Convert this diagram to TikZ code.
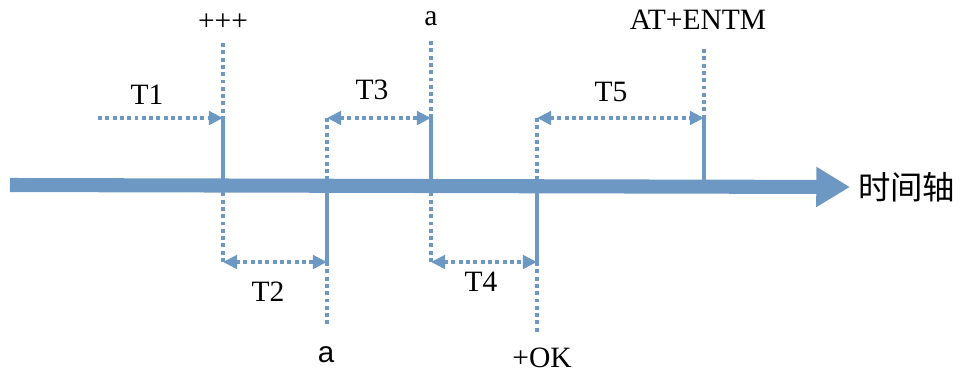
\documentclass[tikz,border=0pt]{standalone}
\usepackage{fontspec}
\setmainfont{Liberation Serif}
\newfontfamily\cjkfont{Noto Sans CJK SC}
\newfontfamily\sanslabel{Liberation Sans}
\usepackage{xcolor}
\definecolor{tlblue}{RGB}{110, 152, 196}
\usetikzlibrary{arrows.meta, positioning}
\tikzset{
  axisline/.style = {
    -{Triangle[length=24pt, width=27pt]},
    line width=10pt,
    draw=tlblue
  },
  ticksolid/.style = {
    line width=2.8pt,
    draw=tlblue
  },
  tickdot/.style = {
    line width=2.8pt,
    draw=tlblue,
    dash pattern=on 2.8pt off 2.4pt
  },
  spanarrow/.style = {
    tickdot,
    {Triangle[length=10pt, width=9.5pt]}-{Triangle[length=10pt, width=9.5pt]}
  },
  leadarrow/.style = {
    tickdot,
    -{Triangle[length=10pt, width=9.5pt]}
  },
  tlabel/.style = {
    font=\fontsize{21}{24}\selectfont,
    text=black,
    inner sep=0pt
  }
}
\begin{document}
\begin{tikzpicture}[x=0.25mm, y=-0.25mm]
  \useasboundingbox (0,0) rectangle (960,372);

  % Time axis
  \coordinate (axstart) at (10, 185);
  \node[tlabel, font=\cjkfont\fontsize{23}{26}\selectfont, anchor=west] (axis) at (858, 187) {时间轴};
  \draw[axisline] (axstart) -- (axis.west -| 850, 185);

  % Event points on the axis
  \coordinate (ev1) at (223, 185);
  \coordinate (ev2) at (327, 185);
  \coordinate (ev3) at (431, 185);
  \coordinate (ev4) at (537, 185);
  \coordinate (ev5) at (704, 185);

  % Labels of the events
  \node[tlabel] (plus) at (223, 22) {+++};
  \node[tlabel, font=\sanslabel\fontsize{21}{24}\selectfont] (abot) at (326, 355) {a};
  \node[tlabel] (atop) at (431, 19) {a};
  \node[tlabel] (okbot) at (542, 358) {+OK};
  \node[tlabel] (entm) at (698, 20) {AT+ENTM};

  % Ends of the ticks
  \coordinate (ev1up) at (223, 118);   \coordinate (ev1top) at (223, 43);
  \coordinate (ev1lo) at (223, 262);
  \coordinate (ev2up) at (327, 118);   \coordinate (ev2lo) at (327, 262);
  \coordinate (ev2bot) at (327, 326);
  \coordinate (ev3up) at (431, 118);   \coordinate (ev3top) at (431, 41);
  \coordinate (ev3lo) at (431, 262);
  \coordinate (ev4up) at (537, 118);   \coordinate (ev4lo) at (537, 262);
  \coordinate (ev4bot) at (537, 332);
  \coordinate (ev5up) at (704, 118);   \coordinate (ev5top) at (704, 49);
  \coordinate (t1start) at (98, 118);

  % Ticks
  \draw[tickdot] (ev1top) -- (ev1up);
  \draw[ticksolid] (ev1up) -- (ev1);
  \draw[tickdot] (ev1) -- (ev1lo);

  \draw[tickdot] (ev2up) -- (ev2);
  \draw[ticksolid] (ev2) -- (ev2lo);
  \draw[tickdot] (ev2lo) -- (ev2bot);

  \draw[tickdot] (ev3top) -- (ev3up);
  \draw[ticksolid] (ev3up) -- (ev3);
  \draw[tickdot] (ev3) -- (ev3lo);

  \draw[tickdot] (ev4up) -- (ev4);
  \draw[ticksolid] (ev4) -- (ev4lo);
  \draw[tickdot] (ev4lo) -- (ev4bot);

  \draw[tickdot] (ev5top) -- (ev5up);
  \draw[ticksolid] (ev5up) -- (ev5);

  % Intervals
  \draw[leadarrow] (t1start) -- (ev1up);
  \node[tlabel] (t1) at (147, 95) {T1};

  \draw[spanarrow] (ev1lo) -- (ev2lo);
  \node[tlabel] (t2) at (268, 292) {T2};

  \draw[spanarrow] (ev2up) -- (ev3up);
  \node[tlabel] (t3) at (372, 90) {T3};

  \draw[spanarrow] (ev3lo) -- (ev4lo);
  \node[tlabel] (t4) at (481, 282) {T4};

  \draw[spanarrow] (ev4up) -- (ev5up);
  \node[tlabel] (t5) at (611, 92) {T5};
\end{tikzpicture}
\end{document}
